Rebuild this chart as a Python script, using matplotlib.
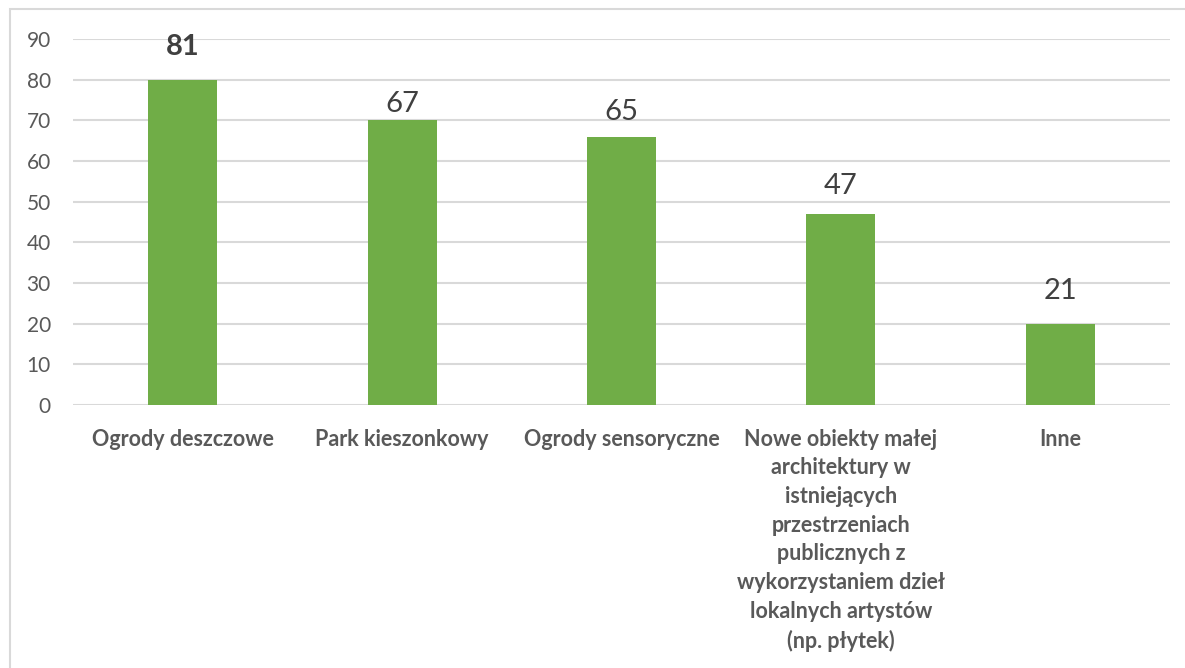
import matplotlib.pyplot as plt
from matplotlib.patches import Rectangle

categories = [
    "Ogrody deszczowe",
    "Park kieszonkowy",
    "Ogrody sensoryczne",
    "Nowe obiekty małej\narchitektury w\nistniejących\nprzestrzeniach\npublicznych z\nwykorzystaniem dzieł\nlokalnych artystów\n(np. płytek)",
    "Inne",
]
# bar heights as drawn in the picture and the numbers printed above them
bar_heights = [80, 70, 66, 47, 20]
value_labels = [81, 67, 65, 47, 21]

plt.rcParams['font.family'] = ['Lato', 'DejaVu Sans']

fig = plt.figure(figsize=(11.85, 6.68), dpi=100)
ax = fig.add_axes([0.0616, 0.3937, 0.9257, 0.5479])

x = range(len(categories))
ax.bar(x, bar_heights, width=0.315, color='#70ad47', zorder=3)

for i, v in enumerate(value_labels):
    ax.text(i, v + 5, str(v), ha='center', va='baseline', fontsize=21,
            color='#404040', fontweight='bold' if i == 0 else 'normal')

ax.set_xlim(-0.5, len(categories) - 0.5)
ax.set_ylim(0, 90)
ax.set_yticks(range(0, 91, 10))
ax.yaxis.grid(True, color='#d9d9d9', linewidth=1.5, zorder=0)
ax.tick_params(axis='y', length=0, labelsize=15, labelcolor='#595959', pad=16)
ax.tick_params(axis='x', length=0, pad=17)
ax.set_xticks(list(x))
ax.set_xticklabels(categories, fontsize=15.5, fontweight='bold', color='#595959',
                   linespacing=1.45, va='top')
for s in ax.spines.values():
    s.set_visible(False)

fig.patches.append(Rectangle((10 / 1185, -0.1), 1.2, 1 - 9 / 668 + 0.1,
                             transform=fig.transFigure, fill=False,
                             edgecolor='#d9d9d9', linewidth=1.5))

fig.savefig('out.png', dpi=100)
